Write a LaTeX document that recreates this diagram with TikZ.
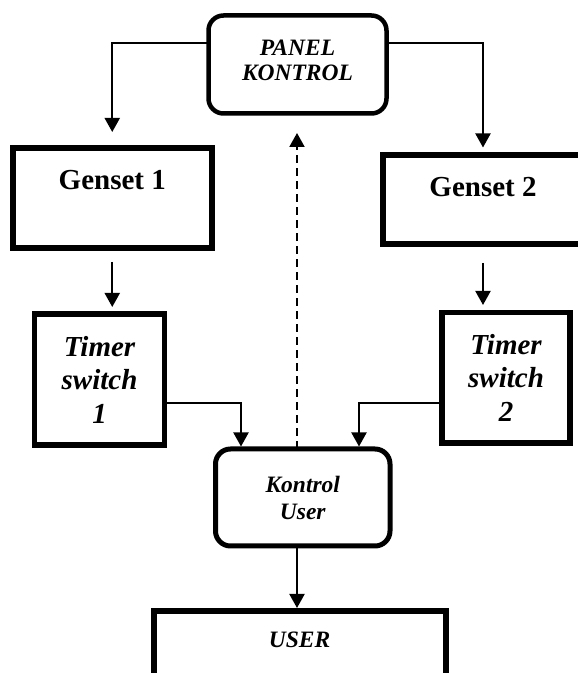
\documentclass[tikz,border=0pt]{standalone}
\usepackage{fontspec}
\setmainfont{Liberation Serif}
\usetikzlibrary{arrows.meta}
\begin{document}
\begin{tikzpicture}[x=1pt,y=1pt,
  sqbox/.style={draw, line width=6pt, outer sep=0pt, inner sep=0pt, align=center},
  rbox/.style={draw, line width=4.5pt, rounded corners=15pt, outer sep=0pt, inner sep=0pt, align=center},
  lbl/.style={font=\fontsize{23.5}{25}\selectfont\bfseries\itshape},
  klbl/.style={font=\fontsize{23.5}{27}\selectfont\bfseries\itshape},
  glbl/.style={font=\fontsize{29}{33.5}\selectfont\bfseries},
  tlbl/.style={font=\fontsize{29}{33.5}\selectfont\bfseries\itshape},
  conn/.style={line width=2pt, -{Triangle[length=14pt,width=15pt]}},
  dconn/.style={conn, dash pattern=on 8pt off 5pt}]
\useasboundingbox (0,0) rectangle (578,673);
\clip (0,0) rectangle (578,673);

\node[rbox, lbl, minimum width=178pt, minimum height=98pt, text depth=9pt] (panel) at (297.5,608.5) {PANEL\\KONTROL};
\node[sqbox, glbl, minimum width=199.5pt, minimum height=99.5pt, text height=19pt, text depth=35.5pt] (g1) at (112.25,474.75) {Genset 1};
\node[sqbox, glbl, minimum width=200pt, minimum height=89pt, text height=19pt, text depth=25pt] (g2) at (483,473) {Genset 2};
\node[sqbox, tlbl, line width=5.5pt, minimum width=130pt, minimum height=131pt] (t1) at (99.5,293.5) {Timer\\switch\\1};
\node[sqbox, tlbl, line width=5.5pt, minimum width=128pt, minimum height=130.5pt] (t2) at (506,295.25) {Timer\\switch\\2};
\node[rbox, klbl, line width=5pt, minimum width=174.5pt, minimum height=97pt] (ku) at (302.75,175.5) {Kontrol\\User};
\node[sqbox, lbl, minimum width=292pt, minimum height=89pt, text height=16pt, text depth=31pt] (user) at (299.5,17.5) {USER};

\draw[conn, shorten >=16.5pt] ([yshift=21.5pt]panel.west) -| (g1.north);
\draw[conn, shorten >=8pt] ([yshift=21.5pt]panel.east) -| (g2.north);
\draw[conn, shorten <=14pt, shorten >=7pt] (g1.south) -- (g1.south |- t1.north);
\draw[conn, shorten <=18.5pt, shorten >=7.5pt] (g2.south) -- (g2.south |- t2.north);
\draw[conn, shorten >=2.5pt] ([yshift=-23.5pt]t1.east) -| ([xshift=-61.75pt]ku.north);
\draw[conn, shorten >=2.5pt] ([yshift=-25.25pt]t2.west) -| ([xshift=56.25pt]ku.north);
\draw[dconn, shorten >=19.5pt] ([xshift=-5.75pt]ku.north) -- ([xshift=-5.75pt]ku.north |- panel.south);
\draw[conn, shorten >=3pt] ([xshift=-5.75pt]ku.south) -- ([xshift=-5.75pt]ku.south |- user.north);
\end{tikzpicture}
\end{document}
